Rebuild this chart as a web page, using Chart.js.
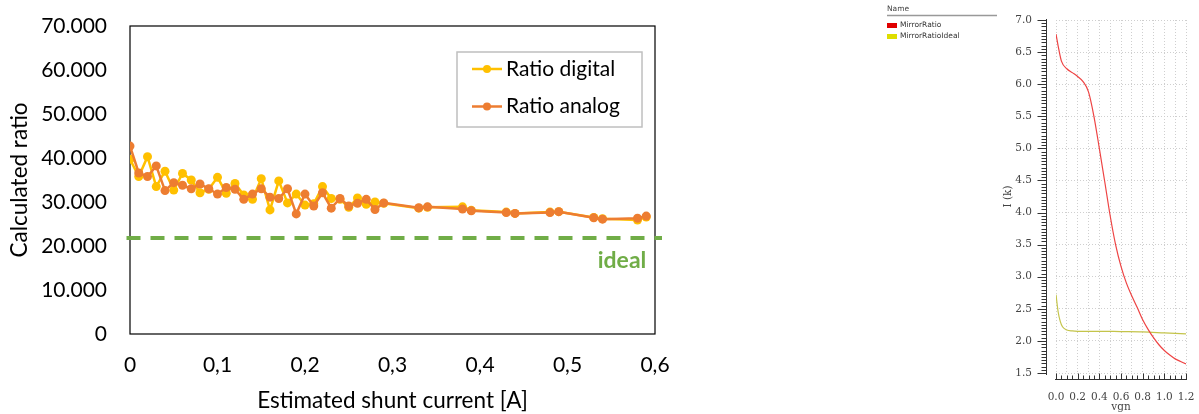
<!DOCTYPE html>
<html>
<head>
<meta charset="utf-8">
<script src="https://cdn.jsdelivr.net/npm/chart.js@4.4.0/dist/chart.umd.min.js"></script>
<style>
  body { margin: 0; background: #fff; width: 1199px; height: 414px; overflow: hidden; position: relative; }
  #left { position: absolute; left: 0; top: 0; }
  #right { position: absolute; left: 860px; top: 0; }
</style>
</head>
<body>
<canvas id="left" width="700" height="414"></canvas>
<canvas id="right" width="339" height="414"></canvas>
<script>
// left chart: calculated ratio vs estimated shunt current
const shuntCurrent = [0, 0.01, 0.02, 0.03, 0.04, 0.05, 0.06, 0.07, 0.08, 0.09,
  0.10, 0.11, 0.12, 0.13, 0.14, 0.15, 0.16, 0.17, 0.18, 0.19,
  0.20, 0.21, 0.22, 0.23, 0.24, 0.25, 0.26, 0.27, 0.28, 0.29,
  0.33, 0.34, 0.38, 0.39, 0.43, 0.44, 0.48, 0.49, 0.53, 0.54, 0.58, 0.59];
const ratioDigital = [39.7, 35.8, 40.3, 33.5, 37.0, 32.7, 36.5, 35.0, 32.1, 32.9,
  35.6, 32.0, 34.2, 31.6, 30.6, 35.3, 28.2, 34.8, 29.8, 31.8,
  29.3, 29.6, 33.5, 30.8, 30.6, 28.8, 30.9, 29.5, 30.0, 29.7,
  28.6, 28.8, 28.9, 28.1, 27.7, 27.4, 27.7, 27.8, 26.5, 26.2, 25.9, 26.6];
const ratioAnalog = [42.7, 36.6, 35.8, 38.2, 32.6, 34.4, 33.8, 33.0, 34.1, 33.0,
  31.8, 33.3, 32.9, 30.6, 31.8, 33.0, 31.1, 30.8, 33.0, 27.3,
  31.8, 29.1, 32.1, 28.6, 30.8, 29.1, 29.7, 30.6, 28.3, 29.8,
  28.7, 28.9, 28.4, 28.0, 27.6, 27.4, 27.6, 27.8, 26.4, 26.1, 26.3, 26.8];
const idealRatio = 21.8;
const idealSpan = [-0.004, 0.608];

// right chart: simulator output
const vgnMirror = [0, 0.025, 0.05, 0.1, 0.15, 0.2, 0.25, 0.3, 0.35, 0.4, 0.45, 0.5,
  0.55, 0.6, 0.65, 0.7, 0.75, 0.8, 0.85, 0.9, 0.95, 1.0, 1.05, 1.1, 1.15, 1.2];
const mirrorRatio = [6.78, 6.55, 6.36, 6.24, 6.18, 6.12, 6.04, 5.88, 5.50, 5.00, 4.48, 3.95,
  3.50, 3.16, 2.90, 2.70, 2.52, 2.33, 2.18, 2.05, 1.94, 1.85, 1.78, 1.72, 1.68, 1.64];
const vgnIdeal = [0, 0.02, 0.04, 0.06, 0.1, 0.15, 0.2, 0.4, 0.6, 0.8, 1.0, 1.2];
const mirrorRatioIdeal = [2.72, 2.45, 2.30, 2.22, 2.17, 2.155, 2.15, 2.15, 2.145, 2.14, 2.125, 2.11];

const toXY = (xs, ys) => xs.map((x, i) => ({ x: x, y: ys[i] }));

const excelFont = 'Lato';

const plotFrame = {
  id: 'plotFrame',
  beforeDatasetsDraw(chart) {
    const a = chart.chartArea, ctx = chart.ctx;
    ctx.save();
    ctx.strokeStyle = '#000';
    ctx.lineWidth = 1.2;
    ctx.strokeRect(a.left, a.top, a.right - a.left, a.bottom - a.top);
    ctx.restore();
  }
};

const boxLegend = {
  id: 'boxLegend',
  afterDraw(chart) {
    const a = chart.chartArea, ctx = chart.ctx;
    const w = 185, h = 75;
    const x0 = a.right - 13 - w, y0 = a.top + 26;
    ctx.save();
    ctx.fillStyle = '#fff';
    ctx.fillRect(x0, y0, w, h);
    ctx.strokeStyle = '#bfbfbf';
    ctx.lineWidth = 1.5;
    ctx.strokeRect(x0, y0, w, h);
    ctx.font = '21px ' + excelFont;
    ctx.textBaseline = 'middle';
    [0, 1].forEach((di, row) => {
      const ds = chart.data.datasets[di];
      const y = y0 + 17 + row * 37.5;
      ctx.strokeStyle = ds.borderColor;
      ctx.lineWidth = 2.5;
      ctx.beginPath();
      ctx.moveTo(x0 + 15, y);
      ctx.lineTo(x0 + 45, y);
      ctx.stroke();
      ctx.fillStyle = ds.borderColor;
      ctx.beginPath();
      ctx.arc(x0 + 30, y, 4, 0, Math.PI * 2);
      ctx.fill();
      ctx.fillStyle = '#000';
      ctx.fillText(ds.label, x0 + 49, y);
    });
    // label for the ideal line
    const yIdeal = chart.scales.y.getPixelForValue(idealRatio);
    ctx.font = 'bold 23px ' + excelFont;
    ctx.fillStyle = '#70AD47';
    ctx.textAlign = 'center';
    ctx.textBaseline = 'alphabetic';
    ctx.fillText('ideal', a.right - 33, yIdeal + 30);
    ctx.restore();
  }
};

new Chart(document.getElementById('left'), {
  type: 'line',
  data: {
    datasets: [
      {
        label: 'Ratio digital',
        data: toXY(shuntCurrent, ratioDigital),
        borderColor: '#FFC000',
        backgroundColor: '#FFC000',
        borderWidth: 2.5,
        pointRadius: 4.5,
        pointBorderWidth: 0,
        order: 1
      },
      {
        label: 'Ratio analog',
        data: toXY(shuntCurrent, ratioAnalog),
        borderColor: '#ED7D31',
        backgroundColor: '#ED7D31',
        borderWidth: 2.5,
        pointRadius: 4.5,
        pointBorderWidth: 0,
        order: 0
      },
      {
        label: 'ideal',
        data: idealSpan.map(x => ({ x: x, y: idealRatio })),
        borderColor: '#70AD47',
        borderWidth: 4,
        borderDash: [14, 10],
        pointRadius: 0,
        clip: false,
        order: 2
      }
    ]
  },
  options: {
    responsive: false,
    animation: false,
    layout: { padding: { top: 26, right: 45, left: 0, bottom: 0 } },
    plugins: { legend: { display: false }, tooltip: { enabled: false } },
    scales: {
      x: {
        type: 'linear',
        min: 0,
        max: 0.6,
        afterFit: s => { s.height = 80; },
        grid: { display: false, drawTicks: true, tickLength: 10 },
        border: { display: false },
        ticks: {
          stepSize: 0.1,
          padding: 9,
          color: '#000',
          font: { family: excelFont, size: 21 },
          callback: v => v === 0 ? '0' : v.toFixed(1).replace('.', ',')
        },
        title: {
          display: true,
          text: 'Estimated shunt current [A]',
          color: '#000',
          font: { family: excelFont, size: 22.5 },
          padding: { top: 0, bottom: 0 }
        }
      },
      y: {
        min: 0,
        max: 70,
        afterFit: s => { s.width = 130; },
        grid: { display: false, drawTicks: true, tickLength: 10 },
        border: { display: false },
        ticks: {
          stepSize: 10,
          padding: 13,
          color: '#000',
          font: { family: excelFont, size: 21 },
          callback: v => v === 0 ? '0' : v.toFixed(3)
        },
        title: {
          display: true,
          text: 'Calculated ratio',
          color: '#000',
          font: { family: excelFont, size: 22.5 },
          padding: { top: 6, bottom: 0 }
        }
      }
    }
  },
  plugins: [plotFrame, boxLegend]
});

// offset axes with minor ticks, as the simulator draws them
const simAxes = {
  id: 'simAxes',
  afterDraw(chart) {
    const ctx = chart.ctx, a = chart.chartArea;
    const xs = chart.scales.x, ys = chart.scales.y;
    ctx.save();
    ctx.strokeStyle = '#333';
    ctx.lineWidth = 1;
    const ax = Math.round(a.left - 10) + 0.5;
    ctx.beginPath();
    ctx.moveTo(ax, ys.getPixelForValue(7) - 1);
    ctx.lineTo(ax, ys.getPixelForValue(1.5) + 2);
    for (let k = 30; k <= 140; k++) {
      const y = Math.round(ys.getPixelForValue(k / 20)) + 0.5;
      const len = k % 10 === 0 ? 9 : 5;
      ctx.moveTo(ax, y);
      ctx.lineTo(ax - len, y);
    }
    const ay = Math.round(a.bottom + 6) + 0.5;
    ctx.moveTo(xs.getPixelForValue(0) - 1, ay);
    ctx.lineTo(xs.getPixelForValue(1.2) + 1, ay);
    for (let k = 0; k <= 24; k++) {
      const x = Math.round(xs.getPixelForValue(k / 20)) + 0.5;
      const len = k % 4 === 0 ? 6 : 4;
      ctx.moveTo(x, ay);
      ctx.lineTo(x, ay - len);
    }
    ctx.stroke();

    // legend list at top left
    ctx.font = '7.5px "DejaVu Sans"';
    ctx.textBaseline = 'middle';
    ctx.fillStyle = '#444';
    ctx.fillText('Name', 27, 9);
    ctx.strokeStyle = '#999';
    ctx.lineWidth = 1.5;
    ctx.beginPath();
    ctx.moveTo(27, 15.5);
    ctx.lineTo(137, 15.5);
    ctx.stroke();
    chart.data.datasets.forEach((ds, i) => {
      ctx.fillStyle = ds.legendColor;
      ctx.fillRect(27, 23 + i * 11, 10, 5);
      ctx.fillStyle = '#333';
      ctx.fillText(ds.label, 40, 25.5 + i * 11);
    });
    ctx.restore();
  }
};

const simTickFont = { family: 'DejaVu Serif', size: 10.5 };

new Chart(document.getElementById('right'), {
  type: 'line',
  data: {
    datasets: [
      {
        label: 'MirrorRatio',
        data: toXY(vgnMirror, mirrorRatio),
        borderColor: '#ee4444',
        legendColor: '#e00000',
        borderWidth: 1.2,
        pointRadius: 0,
        cubicInterpolationMode: 'monotone'
      },
      {
        label: 'MirrorRatioIdeal',
        data: toXY(vgnIdeal, mirrorRatioIdeal),
        borderColor: '#c4c44a',
        legendColor: '#dede00',
        borderWidth: 1.2,
        pointRadius: 0,
        cubicInterpolationMode: 'monotone'
      }
    ]
  },
  options: {
    responsive: false,
    animation: false,
    layout: { padding: { top: 20, right: 13, left: 140, bottom: 0 } },
    plugins: { legend: { display: false }, tooltip: { enabled: false } },
    scales: {
      x: {
        type: 'linear',
        min: 0,
        max: 1.2,
        afterFit: s => { s.height = 41; },
        grid: { color: '#cfcfcf', drawTicks: true, tickLength: 14, tickColor: 'rgba(0,0,0,0)' },
        border: { display: false, dash: [1, 2] },
        ticks: {
          stepSize: 0.1,
          autoSkip: false,
          maxRotation: 0,
          padding: 4,
          color: '#444',
          font: simTickFont,
          callback: v => Math.round(v * 10) % 2 === 0 ? v.toFixed(1) : ''
        },
        title: {
          display: true,
          text: 'vgn',
          color: '#444',
          font: { family: 'DejaVu Serif', size: 10.5 },
          padding: { top: 0, bottom: 0 }
        }
      },
      y: {
        min: 1.5,
        max: 7,
        afterFit: s => { s.width = 56; },
        grid: { color: '#cfcfcf', drawTicks: true, tickLength: 14, tickColor: 'rgba(0,0,0,0)' },
        border: { display: false, dash: [1, 2] },
        ticks: {
          stepSize: 0.5,
          padding: 10,
          color: '#444',
          font: simTickFont,
          callback: v => v.toFixed(1)
        },
        title: {
          display: true,
          text: 'I (k)',
          color: '#444',
          font: { family: 'DejaVu Serif', size: 10.5 },
          padding: { top: 2, bottom: 0 }
        }
      }
    }
  },
  plugins: [simAxes]
});
</script>
</body>
</html>
